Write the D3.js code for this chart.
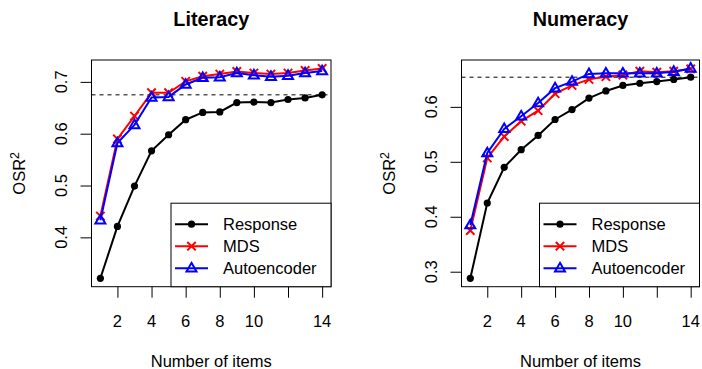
<!DOCTYPE html>
<html>
<head>
<meta charset="utf-8">
<script src="https://cdn.jsdelivr.net/npm/d3@7"></script>
<style>
  html, body { margin: 0; padding: 0; background: #fff; }
  svg text { font-family: "Liberation Sans", Arial, Helvetica, sans-serif; fill: #000; }
</style>
</head>
<body>
<svg id="chart" width="702" height="369"></svg>
<script>
// Number of items used in each model
const items = [1, 2, 3, 4, 5, 6, 7, 8, 9, 10, 11, 12, 13, 14];

// Literacy OSR^2 by number of items
const literacyResponse    = [0.321, 0.421, 0.499, 0.567, 0.598, 0.627, 0.641, 0.642, 0.660, 0.661, 0.660, 0.666, 0.669, 0.675];
const literacyMDS         = [0.441, 0.590, 0.634, 0.679, 0.679, 0.701, 0.711, 0.715, 0.720, 0.717, 0.715, 0.717, 0.722, 0.726];
const literacyAutoencoder = [0.433, 0.582, 0.617, 0.670, 0.671, 0.695, 0.708, 0.709, 0.717, 0.713, 0.710, 0.712, 0.717, 0.721];

// Numeracy OSR^2 by number of items
const numeracyResponse    = [0.288, 0.425, 0.490, 0.522, 0.548, 0.577, 0.595, 0.616, 0.629, 0.639, 0.643, 0.646, 0.650, 0.654];
const numeracyMDS         = [0.375, 0.507, 0.546, 0.574, 0.593, 0.624, 0.639, 0.650, 0.655, 0.658, 0.665, 0.663, 0.665, 0.669];
const numeracyAutoencoder = [0.385, 0.516, 0.560, 0.583, 0.607, 0.634, 0.646, 0.660, 0.661, 0.661, 0.661, 0.661, 0.664, 0.670];

const seriesNames = ["Response", "MDS", "Autoencoder"];
const seriesColors = ["#000000", "#ff0000", "#0000ff"];

const xTicks = [2, 4, 6, 8, 10, 12, 14];
const xTickLabels = ["2", "4", "6", "8", "10", "", "14"];
const literacyYTicks = [0.4, 0.5, 0.6, 0.7];
const numeracyYTicks = [0.3, 0.4, 0.5, 0.6];

const svg = d3.select("#chart");
const FONT = 16.5;

function drawPanel(cfg) {
  const { left, right, top, bottom, title, series, yTicks } = cfg;
  const g = svg.append("g");

  // R-style 4% padding on both axes
  const xExt = d3.extent(items);
  const xPad = (xExt[1] - xExt[0]) * 0.04;
  const x = d3.scaleLinear().domain([xExt[0] - xPad, xExt[1] + xPad]).range([left, right]);

  const all = series.flat();
  const yExt = d3.extent(all);
  const yPad = (yExt[1] - yExt[0]) * 0.04;
  const y = d3.scaleLinear().domain([yExt[0] - yPad, yExt[1] + yPad]).range([bottom, top]);

  // x axis: tick marks from the axis, labels placed below
  const xAxis = d3.axisBottom(x).tickValues(xTicks).tickFormat(() => "").tickSize(11);
  const gx = g.append("g").attr("transform", `translate(0,${bottom})`).call(xAxis);
  gx.select(".domain").remove();
  gx.selectAll(".tick line").attr("stroke", "#000");
  gx.selectAll(".tick text").remove();
  g.append("g").selectAll("text").data(xTicks).join("text")
    .attr("x", d => x(d)).attr("y", bottom + 40.5)
    .attr("text-anchor", "middle").attr("font-size", FONT)
    .text((d, i) => xTickLabels[i]);

  // y axis: tick marks, rotated labels parallel to the axis
  const yAxis = d3.axisLeft(y).tickValues(yTicks).tickFormat(() => "").tickSize(11);
  const gy = g.append("g").attr("transform", `translate(${left},0)`).call(yAxis);
  gy.select(".domain").remove();
  gy.selectAll(".tick line").attr("stroke", "#000");
  gy.selectAll(".tick text").remove();
  const fmt = d3.format(".1f");
  g.append("g").selectAll("text").data(yTicks).join("text")
    .attr("transform", d => `translate(${left - 24.5},${y(d)}) rotate(-90)`)
    .attr("text-anchor", "middle").attr("font-size", FONT)
    .text(d => fmt(d));

  // reference line at the full-length response score
  const ref = series[0][series[0].length - 1];
  g.append("line")
    .attr("x1", left).attr("x2", right)
    .attr("y1", y(ref)).attr("y2", y(ref))
    .attr("stroke", "#000").attr("stroke-width", 1).attr("stroke-dasharray", "4,4");

  const line = d3.line().x((d, i) => x(items[i])).y(d => y(d));

  series.forEach((vals, si) => {
    const color = seriesColors[si];
    g.append("path").datum(vals).attr("d", line)
      .attr("fill", "none").attr("stroke", color).attr("stroke-width", 2);
    const pts = g.append("g");
    vals.forEach((v, i) => drawMarker(pts, si, x(items[i]), y(v), color));
  });

  // plot frame
  g.append("rect")
    .attr("x", left).attr("y", top)
    .attr("width", right - left).attr("height", bottom - top)
    .attr("fill", "none").attr("stroke", "#000").attr("stroke-width", 1);

  // legend, bottom-right
  const lgW = 160, lgH = 83.5;
  const lg = g.append("g").attr("transform", `translate(${right - lgW},${bottom - lgH})`);
  lg.append("rect").attr("width", lgW).attr("height", lgH)
    .attr("fill", "#fff").attr("stroke", "#000").attr("stroke-width", 1);
  seriesNames.forEach((name, si) => {
    const cy = 21 + si * 22;
    lg.append("line").attr("x1", 4).attr("x2", 37).attr("y1", cy).attr("y2", cy)
      .attr("stroke", seriesColors[si]).attr("stroke-width", 2);
    drawMarker(lg, si, 20.5, cy, seriesColors[si]);
    lg.append("text").attr("x", 52).attr("y", cy).attr("dy", "0.36em")
      .attr("font-size", FONT).text(name);
  });

  // title
  g.append("text").attr("x", (left + right) / 2).attr("y", 26)
    .attr("text-anchor", "middle").attr("font-weight", "bold")
    .attr("font-size", FONT * 1.2).text(title);

  // axis titles
  g.append("text").attr("x", (left + right) / 2).attr("y", 367)
    .attr("text-anchor", "middle").attr("font-size", FONT).text("Number of items");

  const yl = g.append("text")
    .attr("transform", `translate(${left - 67},${(top + bottom) / 2}) rotate(-90)`)
    .attr("text-anchor", "middle").attr("font-size", FONT);
  yl.append("tspan").text("OSR");
  yl.append("tspan").attr("dy", "-0.45em").attr("font-size", FONT * 0.75).text("2");
}

function drawMarker(g, si, cx, cy, color) {
  if (si === 0) {
    g.append("circle").attr("cx", cx).attr("cy", cy).attr("r", 3.6).attr("fill", color);
  } else if (si === 1) {
    const s = 4.2;
    g.append("path")
      .attr("d", `M${cx - s},${cy - s}L${cx + s},${cy + s}M${cx - s},${cy + s}L${cx + s},${cy - s}`)
      .attr("stroke", color).attr("stroke-width", 2).attr("fill", "none");
  } else {
    const h = 8.6, w = 5.0;
    g.append("path")
      .attr("d", `M${cx},${cy - h * 0.62}L${cx + w},${cy + h * 0.38}L${cx - w},${cy + h * 0.38}Z`)
      .attr("stroke", color).attr("stroke-width", 2).attr("fill", "none");
  }
}

drawPanel({
  left: 91.5, right: 331, top: 60, bottom: 286.7,
  title: "Literacy",
  series: [literacyResponse, literacyMDS, literacyAutoencoder],
  yTicks: literacyYTicks
});

drawPanel({
  left: 461.5, right: 699.5, top: 60, bottom: 286.7,
  title: "Numeracy",
  series: [numeracyResponse, numeracyMDS, numeracyAutoencoder],
  yTicks: numeracyYTicks
});
</script>
</body>
</html>
